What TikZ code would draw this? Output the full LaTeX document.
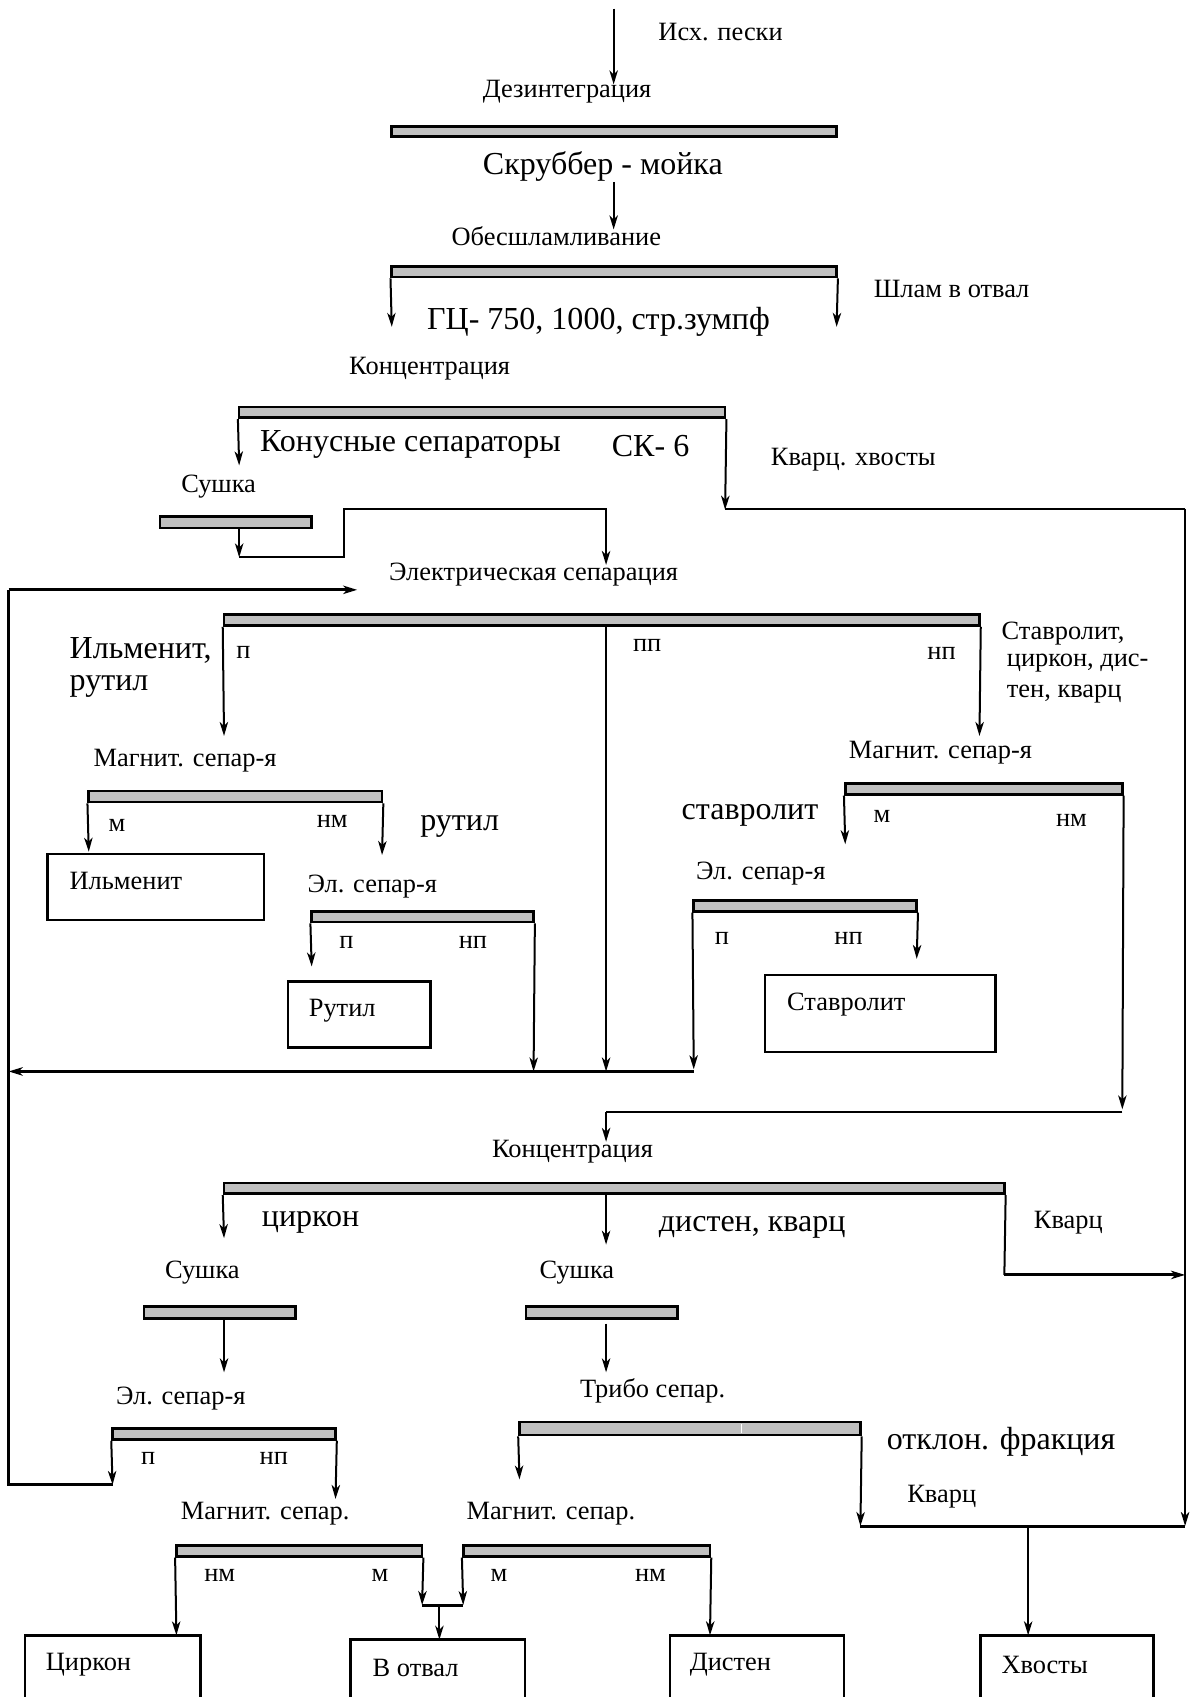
\documentclass[tikz,border=0pt]{standalone}
\usepackage{fontspec}
\setmainfont{Liberation Serif}
\usetikzlibrary{fit,arrows.meta}
\definecolor{barfill}{RGB}{192,192,192}
\tikzset{
 bar/.style={draw, line width=1.3pt, fill=barfill, inner sep=0pt},
 arr/.style={-{Stealth[length=7pt,width=4.2pt,inset=2pt]}, line width=1pt},
 ln/.style={line width=1pt},
 thk/.style={line width=1.5pt},
 txt/.style={inner sep=0pt, font=\fontsize{13.2}{16}\selectfont},
 big/.style={inner sep=0pt, font=\fontsize{16}{19}\selectfont},
 box/.style={draw, line width=1.3pt, inner sep=0pt},
}
\begin{document}
\begin{tikzpicture}[x=0.5409pt,y=-0.5409pt]
\path[use as bounding box] (0,0) rectangle (1100,1568);
\clip (0,0) rectangle (1100,1568);
\fill[white] (0,0) rectangle (1100,1568);

% ---------- bars ----------
\node[bar, fit={(362,117)(773,126)}] (b1) {};
\node[bar, fit={(362,246)(773,256)}] (b2) {};
\node[bar, fit={(221,376)(670,386)}] (b3) {};
\node[bar, fit={(148,477)(288,488)}] (b4) {};
\node[bar, fit={(207,568)(905,578)}] (b5) {};
\node[bar, fit={(82,731)(353,741)}] (b6) {};
\node[bar, fit={(288,842)(493,852)}] (b7) {};
\node[bar, fit={(781,724)(1037,734)}] (b8) {};
\node[bar, fit={(641,832)(847,842)}] (b9) {};
\node[bar, fit={(207,1093)(928,1103)}] (b10) {};
\node[bar, fit={(133,1207)(273,1218)}] (b11) {};
\node[bar, fit={(486,1207)(626,1218)}] (b12) {};
\node[bar, fit={(104,1320)(310,1330)}] (b13) {};
\node[bar, fit={(480,1314)(795,1326)}] (b14) {};
\node[bar, fit={(163,1428)(390,1438)}] (b15) {};
\node[bar, fit={(428,1428)(656,1438)}] (b16) {};
\draw[white, line width=0.8pt] (685,1316) -- (685,1324);

% ---------- boxes ----------
\node[box, fit={(44,789)(244,850)}] (ilm) {};
\node[box, fit={(266,907)(398,968)}] (rut) {};
\node[box, fit={(707,901)(920,972)}] (stav) {};
\node[box, fit={(23,1511)(185,1590)}] (cir) {};
\node[box, fit={(324,1515)(485,1590)}] (otv) {};
\node[box, fit={(619,1511)(780,1590)}] (dis) {};
\node[box, fit={(906,1511)(1066,1590)}] (hv) {};

% ---------- texts ----------
\node[txt, anchor=west] (t1) at (608,30) {Исх. пески};
\node[txt] (t2) at (524,85) {Дезинтеграция};
\node[big] (t3) at (557,154) {Скруббер - мойка};
\node[txt] (t4) at (514,218) {Обесшламливание};
\node[big] (t5) at (553,297) {ГЦ- 750, 1000, стр.зумпф};
\node[txt, anchor=west] (t6) at (807,267) {Шлам в отвал};
\node[txt] (t7) at (397,341) {Концентрация};
\node[big, anchor=west] (t8) at (240,411) {Конусные сепараторы};
\node[big, anchor=west] (t9) at (565,412) {СК- 6};
\node[txt, anchor=west] (t10) at (712,425) {Кварц. хвосты};
\node[txt] (t11) at (202,450) {Сушка};
\node[txt] (t12) at (493,531) {Электрическая сепарация};
\node[big, anchor=west] (t13) at (64,601) {Ильменит,};
\node[big, anchor=west] (t14) at (64,634) {рутил};
\node[txt] (t15) at (225,603) {п};
\node[txt] (t16) at (598,596) {пп};
\node[txt] (t17) at (870,604) {нп};
\node[txt, anchor=west] (t18) at (925,585) {Ставролит,};
\node[txt, anchor=west] (t19) at (930,613) {циркон, дис-};
\node[txt, anchor=west] (t20) at (930,641) {тен, кварц};
\node[txt] (t21) at (171,703) {Магнит. сепар-я};
\node[txt] (t22) at (108,763) {м};
\node[txt] (t23) at (307,759) {нм};
\node[big, anchor=west] (t24) at (388,764) {рутил};
\node[txt, anchor=west] (t25) at (64,814) {Ильменит};
\node[txt] (t26) at (344,819) {Эл. сепар-я};
\node[txt] (t27) at (320,871) {п};
\node[txt] (t28) at (437,871) {нп};
\node[txt, anchor=west] (t29) at (285,934) {Рутил};
\node[txt] (t30) at (869,695) {Магнит. сепар-я};
\node[big] (t31) at (693,753) {ставролит};
\node[txt] (t32) at (815,754) {м};
\node[txt] (t33) at (990,758) {нм};
\node[txt] (t34) at (703,807) {Эл. сепар-я};
\node[txt] (t35) at (667,867) {п};
\node[txt] (t36) at (784,867) {нп};
\node[txt, anchor=west] (t37) at (727,928) {Ставролит};
\node[txt] (t38) at (529,1064) {Концентрация};
\node[big] (t39) at (287,1129) {циркон};
\node[big] (t40) at (695,1134) {дистен, кварц};
\node[txt, anchor=west] (t41) at (955,1130) {Кварц};
\node[txt] (t42) at (187,1176) {Сушка};
\node[txt] (t43) at (533,1176) {Сушка};
\node[txt] (t44) at (167,1292) {Эл. сепар-я};
\node[txt] (t45) at (603,1285) {Трибо сепар.};
\node[txt] (t46) at (137,1348) {п};
\node[txt] (t47) at (253,1348) {нп};
\node[big] (t48) at (925,1332) {отклон. фракция};
\node[txt, anchor=west] (t49) at (838,1383) {Кварц};
\node[txt] (t50) at (245,1399) {Магнит. сепар.};
\node[txt] (t51) at (509,1399) {Магнит. сепар.};
\node[txt] (t52) at (203,1456) {нм};
\node[txt] (t53) at (351,1456) {м};
\node[txt] (t54) at (461,1456) {м};
\node[txt] (t55) at (601,1456) {нм};
\node[txt, anchor=west] (t56) at (42,1538) {Циркон};
\node[txt, anchor=west] (t57) at (344,1541) {В отвал};
\node[txt, anchor=west] (t58) at (637,1538) {Дистен};
\node[txt, anchor=west] (t59) at (925,1538) {Хвосты};

% ---------- connectors ----------
\coordinate (in) at (567,8);
\draw[arr] (in) -- (567,78);
\draw[arr] (567,168) -- (567,212);
\draw[arr] (b2.south west) -- (362,302);
\draw[arr] (b2.south east) -- (773,302);
\draw[arr] (b3.south west) -- (221,430);
\draw[arr] (b3.south east) -- (670,471);
\draw[ln] (670,470) -- (1095,470);
\draw[arr] (1095,470) -- (1095,1410);
% drying loop
\coordinate (s1) at (221,515);
\draw[arr] (221,488) -- (s1);
\draw[arr] (s1) -- (318,515) -- (318,470) -- (560,470) -- (560,522);
% feedback
\draw[arr] (b13.south west) -- (104,1372);
\draw[thk] (104,1372) -- (8,1372) -- (8,545);
\draw[arr, thk] (8,545) -- (330,545);
% electric separation
\draw[arr] (b5.south west) -- (207,680);
\draw[arr] (560,578) -- (560,990);
\draw[arr] (b5.south east) -- (905,680);
\draw[arr] (b6.south west) -- (82,787);
\draw[arr] (b6.south east) -- (353,790);
\draw[arr] (b7.south west) -- (288,893);
\draw[arr] (b7.south east) -- (493,990);
\draw[arr] (b8.south west) -- (781,780);
\draw[arr] (b8.south east) -- (1037,1025);
\draw[ln] (1037,1027) -- (560,1027);
\draw[arr] (560,1027) -- (560,1055);
\draw[arr] (b9.south west) -- (641,988);
\draw[arr] (b9.south east) -- (847,886);
\draw[arr, thk] (641,990) -- (8,990);
% concentration 2
\draw[arr] (b10.south west) -- (207,1144);
\draw[arr] (560,1103) -- (560,1150);
\draw[ln] (b10.south east) -- (928,1178);
\draw[arr, thk] (928,1178) -- (1095,1178);
\draw[arr] (207,1218) -- (207,1268);
\draw[arr] (560,1223) -- (560,1268);
\draw[arr] (b13.south east) -- (310,1385);
\draw[arr] (b14.south west) -- (480,1367);
\draw[arr] (b14.south east) -- (795,1410);
\draw[thk] (795,1410) -- (1095,1410);
\draw[arr] (950,1410) -- (950,1511);
\draw[arr] (b15.south west) -- (163,1511);
\draw[arr] (b15.south east) -- (390,1483);
\draw[arr] (b16.south west) -- (428,1483);
\draw[thk] (390,1483) -- (428,1483);
\draw[arr] (406,1483) -- (406,1515);
\draw[arr] (b16.south east) -- (656,1511);
\end{tikzpicture}
\end{document}
